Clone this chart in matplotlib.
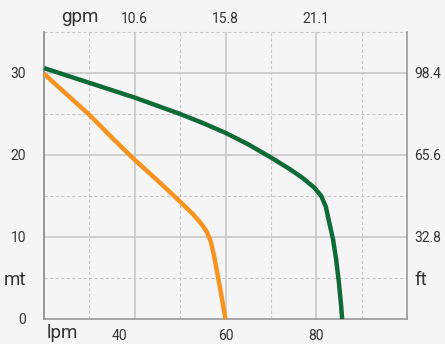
import matplotlib
matplotlib.use('Agg')
import matplotlib.pyplot as plt

# pump curves, flow in lpm, head in metres
green_q = [20, 30, 40, 50, 55, 60, 65, 70, 74.1, 77, 79.6, 81.1, 82.1, 82.9, 83.7, 84.4, 85.0, 85.5, 85.7]
green_h = [30.6, 28.8, 27.0, 25.0, 23.9, 22.7, 21.3, 19.7, 18.3, 17.2, 16.0, 15.0, 13.7, 11.7, 9.7, 7.2, 4.4, 1.5, 0]

orange_q = [20, 25, 30, 35, 40, 45, 48, 50, 52.8, 54.7, 55.9, 56.7, 57.4, 58.1, 58.9, 60.0]
orange_h = [29.9, 27.4, 24.9, 22.1, 19.4, 16.9, 15.35, 14.3, 12.8, 11.6, 10.6, 9.55, 7.9, 5.9, 3.45, 0]

bottom_pos = [36.6, 60, 80]
bottom_labels = ['40', '60', '80']
top_pos = [28, 40, 60, 80]
top_labels = ['gpm', '10.6', '15.8', '21.1']
left_pos = [0, 5, 10, 20, 30]
left_labels = ['0', 'mt', '10', '20', '30']
right_pos = [5, 10, 20, 30]
right_labels = ['ft', '32.8', '65.6', '98.4']

bg = '#f5f5f5'
plt.rcParams['font.family'] = ['Roboto', 'DejaVu Sans']

fig = plt.figure(figsize=(4.45, 3.44), dpi=100, facecolor=bg)
ax = fig.add_axes([44 / 445, 25 / 344, 363 / 445, 287 / 344], facecolor=bg)
ax.set_xlim(20, 100)
ax.set_ylim(0, 35)

# grid: solid on the decades, dashed in between
for x in [40, 60, 80]:
    ax.axvline(x, color='#cccccc', lw=1.3, zorder=1)
for x in [30, 50, 70, 90]:
    ax.axvline(x, color='#c8c8c8', lw=0.8, ls=(0, (3, 2)), zorder=1)
for y in [10, 20, 30]:
    ax.axhline(y, color='#cccccc', lw=1.3, zorder=1)
for y in [5, 15, 25, 35]:
    ax.axhline(y, color='#c8c8c8', lw=0.8, ls=(0, (3, 2)), zorder=1, clip_on=False)

ax.plot(green_q, green_h, color='#0e6a36', lw=3.2, solid_capstyle='butt',
        solid_joinstyle='round', clip_on=False, zorder=3)
ax.plot(orange_q, orange_h, color='#f7931e', lw=3.2, solid_capstyle='butt',
        solid_joinstyle='round', clip_on=False, zorder=3)

ax.spines['top'].set_visible(False)
for s in ['left', 'bottom', 'right']:
    ax.spines[s].set_color('#999999')
    ax.spines[s].set_linewidth(1.2)
ax.spines['left'].set_color('#888888')

tc = '#333333'
ax.set_xticks(bottom_pos)
ax.set_xticklabels(bottom_labels)
ax.tick_params(axis='x', length=0, pad=7, labelsize=10, colors=tc)
ax.set_yticks(left_pos)
ax.set_yticklabels(left_labels)
ax.tick_params(axis='y', length=0, pad=13, labelsize=10, colors=tc)

# unit label under the flow axis, kept inside the canvas
ax.text(24, -23 / 287, 'lpm', transform=ax.get_xaxis_transform(), ha='center',
        va='bottom', fontsize=13.5, color=tc)

top = ax.secondary_xaxis('top')
top.set_xticks(top_pos)
top.set_xticklabels(top_labels)
top.tick_params(length=0, pad=4, labelsize=10, colors=tc)
top.spines['top'].set_visible(False)

right = ax.secondary_yaxis('right')
right.set_yticks(right_pos)
right.set_yticklabels(right_labels)
right.tick_params(length=0, pad=5, labelsize=10, colors=tc)
right.spines['right'].set_visible(False)

for lab in [ax.get_yticklabels()[1], top.get_xticklabels()[0], right.get_yticklabels()[0]]:
    lab.set_fontsize(13.5)

fig.savefig('out.png', dpi=100, facecolor=bg)
